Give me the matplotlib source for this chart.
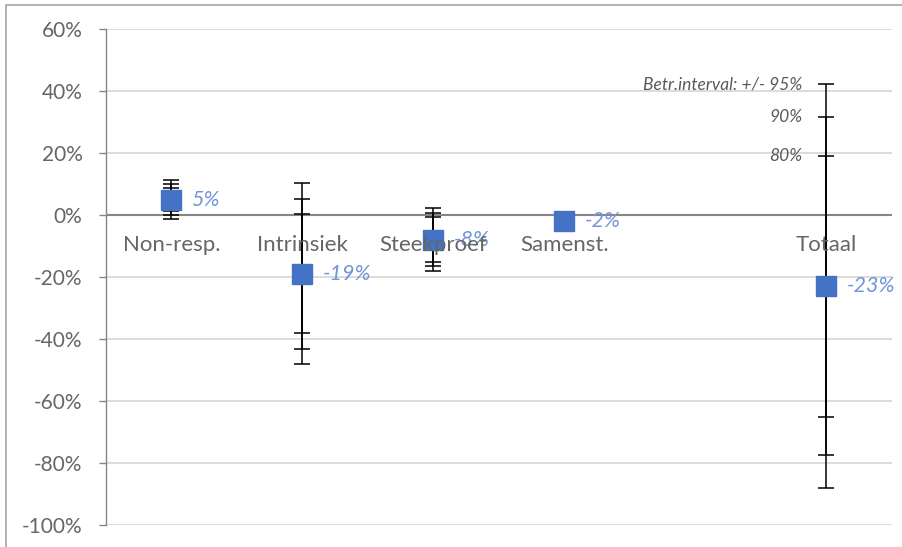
import numpy as np
import matplotlib.pyplot as plt
from matplotlib.ticker import FuncFormatter, MultipleLocator
from matplotlib.patches import Rectangle

plt.rcParams['font.family'] = ['Lato', 'DejaVu Sans']

categories = ["Non-resp.", "Intrinsiek", "Steekproef", "Samenst.", "", "Totaal"]
effect = [0.05, -0.19, -0.08, -0.02, None, -0.23]
labels = ["5%", "-19%", "-8%", "-2%", "", "-23%"]
# half widths of the intervals (80%, 90%, 95%)
err80 = [0.037, 0.192, 0.072, 0.0, None, 0.42]
err90 = [0.050, 0.242, 0.086, 0.0, None, 0.545]
err95 = [0.063, 0.292, 0.101, 0.0, None, 0.652]
levels = ["80%", "90%", "Betr.interval: +/- 95%"]

fig = plt.figure(figsize=(9.03, 5.47), dpi=100)
fig.patches.append(Rectangle((6/903, -0.1), 1.2, 1 - 5/547 + 0.1, transform=fig.transFigure,
                             fill=False, edgecolor="#a6a6a6", linewidth=1.2))
ax = fig.add_axes([106/903, 22/547, 786/903, 496/547])

x = np.arange(len(categories))
idx = [i for i in range(len(categories)) if effect[i] is not None]
xs = x[idx]
ys = np.array([effect[i] for i in idx])

for err in (err80, err90, err95):
    e = np.array([err[i] for i in idx])
    keep = e > 0
    ax.errorbar(xs[keep], ys[keep], yerr=e[keep], fmt='none', ecolor='black',
                elinewidth=1.1, capsize=6, capthick=1.1, zorder=3)

ax.plot(xs, ys, 's', color='#4472C4', markersize=14, zorder=4)

for i in idx:
    ax.annotate(labels[i], (x[i], effect[i]), xytext=(20, 0), textcoords='offset pixels',
                ha='left', va='center', fontsize=15.5, style='italic', color='#7394d6', zorder=5)

for i, c in enumerate(categories):
    ax.annotate(c, (x[i], 0), xytext=(0, -30), textcoords='offset pixels',
                ha='center', va='center', fontsize=16, color='#666666', zorder=6)

# interval legend next to Totaal
t = categories.index("Totaal")
for err, lab in zip((err80, err90, err95), levels):
    ax.annotate(lab, (x[t], effect[t] + err[t]), xytext=(-24, 0), textcoords='offset pixels',
                ha='right', va='center', fontsize=12.5, style='italic', color='#595959')

ax.axhline(0, color='#868686', linewidth=1.5, zorder=2)
ax.set_xlim(-0.5, len(categories) - 0.5)
ax.set_ylim(-1.0, 0.6)
ax.yaxis.set_major_locator(MultipleLocator(0.2))
ax.yaxis.set_major_formatter(FuncFormatter(lambda v, p: f"{v:.0%}"))
ax.grid(axis='y', color='#d9d9d9', linewidth=1.3, zorder=0)
ax.set_axisbelow(True)
ax.set_xticks([])
ax.tick_params(axis='y', length=5, width=1, color='#868686', labelsize=15,
               labelcolor='#666666', pad=12)
for s in ['top', 'right', 'bottom']:
    ax.spines[s].set_visible(False)
ax.spines['left'].set_color('#868686')
ax.spines['left'].set_linewidth(1)

plt.savefig("out.png", dpi=100)
